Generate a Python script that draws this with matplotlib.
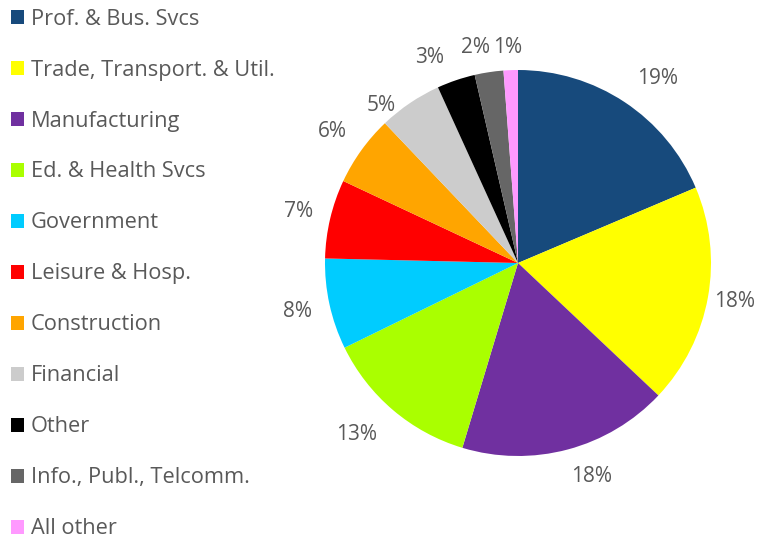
import numpy as np
import matplotlib
matplotlib.use("Agg")
import matplotlib.pyplot as plt

# Employment share by sector
categories = [
    "Prof. & Bus. Svcs",
    "Trade, Transport. & Util.",
    "Manufacturing",
    "Ed. & Health Svcs",
    "Government",
    "Leisure & Hosp.",
    "Construction",
    "Financial",
    "Other",
    "Info., Publ., Telcomm.",
    "All other",
]
shares = [18.6, 18.4, 17.6, 13.1, 7.6, 6.6, 5.9, 5.3, 3.2, 2.4, 1.2]
colors = [
    "#174A7C", "#FFFF00", "#7030A0", "#AAFF00", "#00CCFF", "#FF0000",
    "#FFA500", "#CCCCCC", "#000000", "#666666", "#FF99FF",
]

# label placement: radial distance (in radii) and angular nudge (deg)
label_dist = [1.20, 1.14, 1.17, 1.22, 1.17, 1.17, 1.18, 1.08, 1.16, 1.14, 1.12]
label_nudge = [-3.5, 0, 4, -3, 0, 0, 0.5, 7, 4.5, 2.5, 0.5]

text_color = "#595959"
font = ["Open Sans", "DejaVu Sans"]
plt.rcParams["font.family"] = font

W, H, DPI = 759, 540, 100
fig = plt.figure(figsize=(W / DPI, H / DPI), dpi=DPI)

cx, cy, r = 518, 263, 193
ax = fig.add_axes([(cx - r) / W, (H - cy - r) / H, 2 * r / W, 2 * r / H])
wedges, _ = ax.pie(shares, colors=colors, startangle=90, counterclock=False,
                   radius=1.0, wedgeprops=dict(linewidth=0))
ax.set_xlim(-1, 1)
ax.set_ylim(-1, 1)
ax.set_aspect("equal")
ax.axis("off")

total = sum(shares)
for w, v, d, n in zip(wedges, shares, label_dist, label_nudge):
    ang = np.deg2rad((w.theta1 + w.theta2) / 2 + n)
    ax.text(d * np.cos(ang), d * np.sin(ang), f"{round(v / total * 100):.0f}%",
            ha="center", va="center", fontsize=15, color=text_color,
            clip_on=False)

fig.legend(wedges, categories, loc="upper left",
           bbox_to_anchor=(4 / W, 1 - 2 / H), frameon=False,
           fontsize=15.7, labelcolor=text_color,
           handlelength=0.6, handleheight=0.6, handletextpad=0.32,
           labelspacing=1.375, borderpad=0.3, borderaxespad=0)

fig.savefig("out.png", dpi=DPI)
